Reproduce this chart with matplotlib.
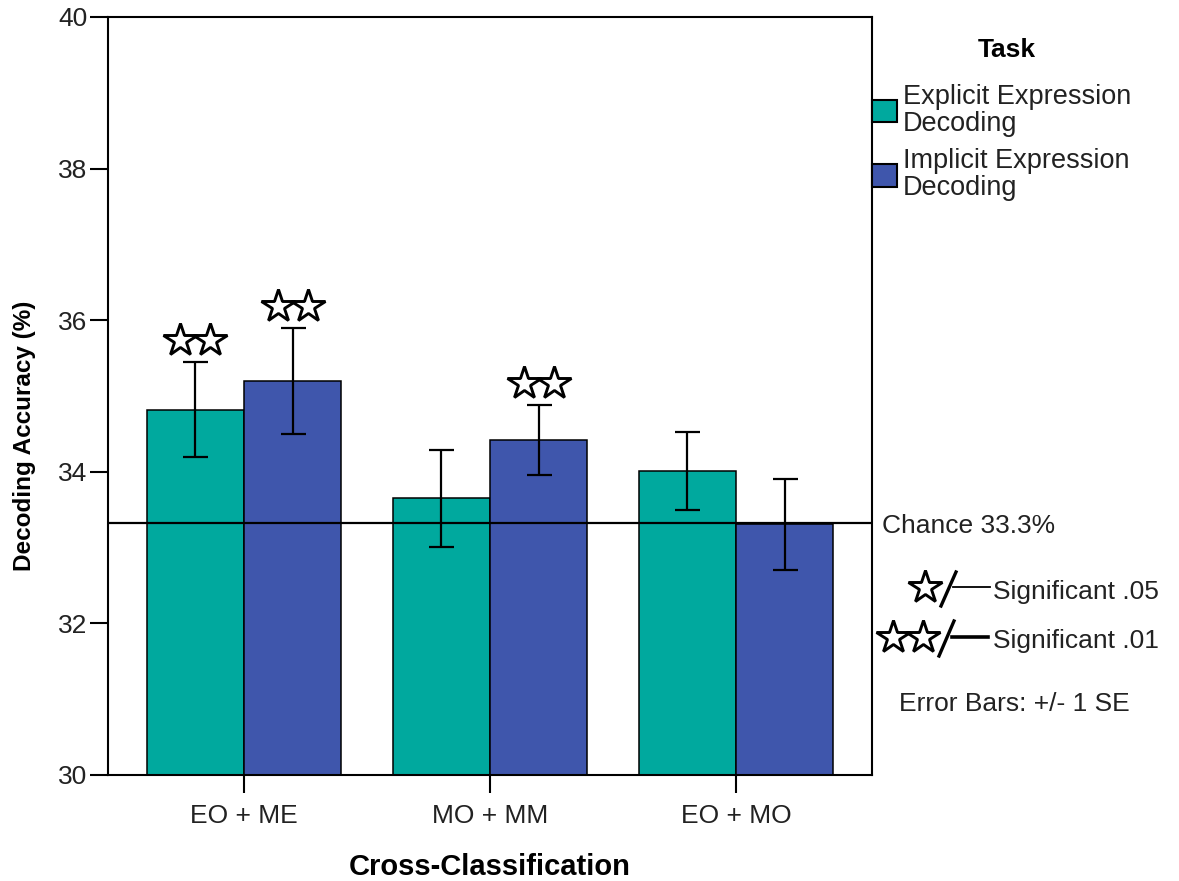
import matplotlib.pyplot as plt
from matplotlib.lines import Line2D
import numpy as np

# data
groups = ['EO + ME', 'MO + MM', 'EO + MO']
series = ['Explicit Expression\nDecoding', 'Implicit Expression\nDecoding']
explicit = [34.82, 33.65, 34.01]
implicit = [35.20, 34.42, 33.31]
explicit_se = [0.63, 0.64, 0.52]
implicit_se = [0.70, 0.46, 0.60]
# significance: 0 none, 1 = .05, 2 = .01
explicit_sig = [2, 0, 0]
implicit_sig = [2, 2, 0]
chance = 33.33

teal = '#00a99e'
blue = '#3f56ac'

W, H = 1179, 881
fig = plt.figure(figsize=(W / 100, H / 100), dpi=100)
ax = fig.add_axes([108 / W, 1 - 775 / H, (872 - 108) / W, (775 - 17) / H])

x = np.arange(len(groups))
w = 0.395
ebkw = dict(ecolor='black', elinewidth=1.6, capsize=9, capthick=1.6, zorder=4)
ax.bar(x - w / 2, explicit, w, color=teal, edgecolor='black', linewidth=1.1,
       label=series[0], zorder=2)
ax.bar(x + w / 2, implicit, w, color=blue, edgecolor='black', linewidth=1.1,
       label=series[1], zorder=2)
ax.errorbar(x - w / 2, explicit, yerr=explicit_se, fmt='none', **ebkw)
ax.errorbar(x + w / 2, implicit, yerr=implicit_se, fmt='none', **ebkw)
ax.axhline(chance, color='black', lw=1.6, zorder=3)

# stars above the significant bars
star = dict(marker='*', ms=25, mfc='white', mec='black', mew=2.1, ls='none',
            zorder=5, clip_on=False)
d = 0.061
for xs, vals, ses, sig in [(x - w / 2, explicit, explicit_se, explicit_sig),
                           (x + w / 2, implicit, implicit_se, implicit_sig)]:
    for xi, v, s, n in zip(xs, vals, ses, sig):
        if n == 0:
            continue
        yy = v + s + 0.29
        if n == 1:
            ax.plot([xi], [yy], **star)
        else:
            ax.plot([xi - d, xi + d], [yy, yy], **star)

ax.set_ylim(30, 40)
ax.set_xlim(-0.553, 2.553)
ax.set_yticks([30, 32, 34, 36, 38, 40])
ax.set_xticks(x)
ax.set_xticklabels(groups)
for sp in ax.spines.values():
    sp.set_linewidth(1.5)
ax.tick_params(axis='y', length=13, width=1.5, pad=2, labelsize=19)
ax.tick_params(axis='x', length=13, width=1.5, pad=8, labelsize=19)
for t in ax.get_xticklabels() + ax.get_yticklabels():
    t.set_family('Liberation Sans')
    t.set_color('#222222')

ax.set_xlabel('Cross-Classification', fontsize=21, fontweight='bold',
              family='Liberation Sans')
ax.xaxis.set_label_coords(0.5, -0.103)
ax.set_ylabel('Decoding Accuracy (%)', fontsize=17.5, fontweight='bold',
              family='Liberation Sans')
ax.yaxis.set_label_coords(-0.094, 0.447)

# legend
leg = ax.legend(loc='upper left', bbox_to_anchor=(872 / W, 1 - 84 / H),
                bbox_transform=fig.transFigure, frameon=False, borderpad=0,
                borderaxespad=0, handlelength=0.93, handleheight=0.9,
                handletextpad=0.22, labelspacing=0.42,
                prop={'family': 'Liberation Sans', 'size': 19.5})
for t in leg.get_texts():
    t.set_linespacing(1.05)
    t.set_color('#222222')
for p in leg.get_patches():
    p.set_linewidth(1.5)


def fx(px):
    return px / W


def fy(py):
    return 1 - py / H


fig.text(fx(1007), fy(57), 'Task', family='Liberation Sans', fontsize=19,
         fontweight='bold', ha='center', va='baseline')

tkw = dict(family='Liberation Sans', fontsize=19, color='#222222', va='baseline')
fig.text(fx(882), fy(533), 'Chance 33.3%', **tkw)
fig.text(fx(993), fy(599), 'Significant .05', **tkw)
fig.text(fx(993), fy(648), 'Significant .01', **tkw)
fig.text(fx(899), fy(711), 'Error Bars: +/- 1 SE', **tkw)

# significance key
lstar = dict(marker='*', ms=25, mfc='white', mec='black', mew=2.1, ls='none',
             transform=fig.transFigure)
fig.add_artist(Line2D([fx(925)], [fy(587)], **lstar))
fig.add_artist(Line2D([fx(893), fx(923)], [fy(637), fy(637)], **lstar))
fig.add_artist(Line2D([fx(941), fx(956)], [fy(606), fy(572)], color='black', lw=2.4,
                      transform=fig.transFigure))
fig.add_artist(Line2D([fx(939), fx(954)], [fy(656), fy(621)], color='black', lw=2.4,
                      transform=fig.transFigure))
fig.add_artist(Line2D([fx(953), fx(990)], [fy(587), fy(587)], color='black', lw=1.3,
                      transform=fig.transFigure))
fig.add_artist(Line2D([fx(952), fx(988)], [fy(637), fy(637)], color='black', lw=2.6,
                      transform=fig.transFigure))

fig.savefig('out.png', dpi=100)
